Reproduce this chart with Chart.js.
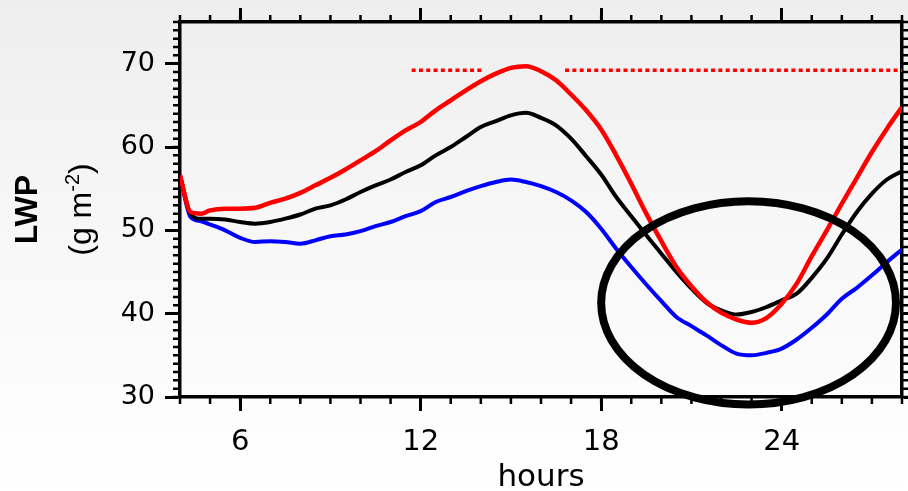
<!DOCTYPE html>
<html>
<head>
<meta charset="utf-8">
<script src="https://cdn.jsdelivr.net/npm/chart.js@4"></script>
<style>
  html, body { margin: 0; padding: 0; background: #fff; }
  canvas { display: block; }
</style>
</head>
<body>
<canvas id="lwp" width="908" height="491"></canvas>
<script>
// LWP (g m-2) against hours, three runs
const hours = [4, 4.35, 4.7, 5, 5.5, 6, 6.5, 7, 7.5, 8, 8.5, 9, 9.5, 10, 10.5, 11, 11.5, 12, 12.5, 13,
  13.5, 14, 14.5, 15, 15.5, 16, 16.5, 17, 17.5, 18, 18.5, 19, 19.5, 20, 20.5, 21, 21.5, 22, 22.5, 23,
  23.5, 24, 24.5, 25, 25.5, 26, 26.5, 27, 27.5, 28];
const lwpRed = [56.6, 52.2, 52.0, 52.4, 52.6, 52.6, 52.7, 53.3, 53.8, 54.5, 55.4, 56.3, 57.3, 58.4, 59.5, 60.8, 62.0, 63.0, 64.4, 65.6,
  66.8, 67.9, 68.8, 69.5, 69.7, 69.1, 68.0, 66.3, 64.4, 62.1, 59.0, 55.6, 52.0, 48.7, 45.6, 43.3, 41.4, 40.1, 39.3, 38.9,
  39.5, 41.2, 43.6, 46.9, 50.0, 53.2, 56.3, 59.4, 62.2, 64.8];
const lwpBlack = [56.6, 52.0, 51.4, 51.4, 51.3, 51.0, 50.8, 51.0, 51.4, 51.9, 52.6, 53.0, 53.7, 54.6, 55.4, 56.1, 57.0, 57.8, 59.0, 60.0,
  61.2, 62.4, 63.1, 63.8, 64.1, 63.5, 62.6, 61.0, 58.9, 56.7, 54.0, 51.7, 49.4, 47.2, 45.0, 43.0, 41.3, 40.4, 39.9, 40.2,
  40.8, 41.6, 42.4, 44.3, 46.6, 49.5, 52.2, 54.4, 56.1, 57.1];
const lwpBlue = [56.6, 51.6, 51.1, 50.7, 50.0, 49.1, 48.6, 48.7, 48.6, 48.4, 48.8, 49.3, 49.5, 49.9, 50.5, 51.0, 51.7, 52.3, 53.4, 54.0,
  54.7, 55.3, 55.8, 56.1, 55.8, 55.3, 54.6, 53.6, 52.2, 50.2, 47.8, 45.6, 43.5, 41.5, 39.6, 38.5, 37.4, 36.2, 35.2, 35.0,
  35.3, 35.8, 36.9, 38.3, 39.9, 41.8, 43.1, 44.6, 46.2, 47.7];

const xMajor = [6, 12, 18, 24];
const yMajor = [30, 40, 50, 60, 70];

// red dotted reference level and the hours it covers
const refLevel = 69.2;
const refSegments = [[11.7, 14.1], [16.8, 28]];

// circled region: centre hour, centre LWP, half-width (h), half-height (g m-2)
const circled = [22.9, 41.3, 4.9, 12.2];

const tickFont = { family: 'DejaVu Sans', size: 27 };

const pts = (vals) => hours.map((h, i) => ({ x: h, y: vals[i] }));

const background = {
  id: 'background',
  beforeDraw(chart) {
    const { ctx, width, height } = chart;
    const g = ctx.createLinearGradient(0, 0, 0, height);
    g.addColorStop(0, '#eeeeee');
    g.addColorStop(0.45, '#f7f7f7');
    g.addColorStop(1, '#ffffff');
    ctx.save();
    ctx.fillStyle = g;
    ctx.fillRect(0, 0, width, height);
    ctx.restore();
  }
};

// minor ticks every hour / every 1 g m-2 on all four sides
const minorTicks = {
  id: 'minorTicks',
  afterDraw(chart) {
    const { ctx, chartArea: a, scales } = chart;
    ctx.save();
    ctx.strokeStyle = '#000';
    ctx.lineWidth = 2.5;
    ctx.beginPath();
    for (let h = scales.x.min; h <= scales.x.max; h++) {
      const px = scales.x.getPixelForValue(h);
      ctx.moveTo(px, a.bottom); ctx.lineTo(px, a.bottom + 7);
      ctx.moveTo(px, a.top); ctx.lineTo(px, a.top - 7);
    }
    for (let v = scales.y.min; v <= scales.y.max; v++) {
      const py = scales.y.getPixelForValue(v);
      ctx.moveTo(a.left, py); ctx.lineTo(a.left - 7, py);
      ctx.moveTo(a.right, py); ctx.lineTo(a.right + 7, py);
    }
    ctx.stroke();
    ctx.restore();
  }
};

const yTitle = {
  id: 'yTitle',
  afterDraw(chart) {
    const { ctx, chartArea: a } = chart;
    const cy = (a.top + a.bottom) / 2;
    ctx.save();
    ctx.fillStyle = '#000';
    ctx.translate(37, cy);
    ctx.rotate(-Math.PI / 2);
    ctx.textAlign = 'center';
    ctx.textBaseline = 'alphabetic';
    ctx.font = 'bold 32px "Liberation Sans"';
    ctx.fillText('LWP', 0, 0);
    ctx.restore();

    ctx.save();
    ctx.fillStyle = '#000';
    ctx.translate(91, cy);
    ctx.rotate(-Math.PI / 2);
    ctx.textAlign = 'left';
    ctx.textBaseline = 'alphabetic';
    const big = '32px "Liberation Sans"';
    const small = '20px "Liberation Sans"';
    ctx.font = big;
    const w1 = ctx.measureText('(g m').width;
    const w3 = ctx.measureText(')').width;
    ctx.font = small;
    const w2 = ctx.measureText('-2').width;
    let x = -(w1 + w2 + w3) / 2;
    ctx.font = big;
    ctx.fillText('(g m', x, 0);
    x += w1;
    ctx.font = small;
    ctx.fillText('-2', x, -12);
    x += w2;
    ctx.font = big;
    ctx.fillText(')', x, 0);
    ctx.restore();
  }
};

const ellipse = {
  id: 'ellipse',
  afterDraw(chart) {
    const { ctx, scales: { x, y } } = chart;
    const [ch, cv, rh, rv] = circled;
    const cx = x.getPixelForValue(ch);
    const cyy = y.getPixelForValue(cv);
    const rx = x.getPixelForValue(ch + rh) - cx;
    const ry = cyy - y.getPixelForValue(cv + rv);
    ctx.save();
    ctx.strokeStyle = '#000';
    ctx.lineWidth = 8;
    ctx.beginPath();
    ctx.ellipse(cx, cyy, rx, ry, 0, 0, Math.PI * 2);
    ctx.stroke();
    ctx.restore();
  }
};

const setTicks = (vals) => (scale) => { scale.ticks = vals.map(v => ({ value: v })); };

const lineStyle = (color, w) => ({
  borderColor: color, borderWidth: w, pointRadius: 0, fill: false,
  tension: 0.3, cubicInterpolationMode: 'monotone'
});

const datasets = [
  { data: pts(lwpRed), ...lineStyle('#ff0000', 4.5) },
  { data: pts(lwpBlack), ...lineStyle('#000000', 4) },
  { data: pts(lwpBlue), ...lineStyle('#0000ff', 4) }
];
refSegments.forEach(seg => {
  datasets.push({
    data: seg.map(h => ({ x: h, y: refLevel })),
    borderColor: '#ff0000', borderWidth: 3.5, borderDash: [4, 3.3],
    borderCapStyle: 'butt', pointRadius: 0, fill: false
  });
});

const axisGrid = (len) => ({
  display: true, drawOnChartArea: false, drawTicks: true,
  tickLength: len, tickWidth: 3, tickColor: '#000'
});
const axisBorder = { display: true, color: '#000', width: 3.5 };

// fix the box sizes so the plot area sits where it does in the figure
const fixSize = (prop, size) => (s) => {
  s[prop] = size;
  s.paddingTop = 0; s.paddingBottom = 0; s.paddingLeft = 0; s.paddingRight = 0;
};

new Chart(document.getElementById('lwp'), {
  type: 'line',
  data: { datasets },
  options: {
    responsive: false,
    animation: false,
    layout: { padding: 0 },
    plugins: { legend: { display: false }, tooltip: { enabled: false } },
    scales: {
      x: {
        type: 'linear', position: 'bottom', min: 4, max: 28,
        afterBuildTicks: setTicks(xMajor),
        afterFit: fixSize('height', 94),
        grid: axisGrid(14), border: axisBorder,
        ticks: { color: '#000', font: { family: 'DejaVu Sans', size: 29 }, padding: 14, maxRotation: 0 },
        title: { display: true, text: 'hours', color: '#000',
          font: { family: 'DejaVu Sans', size: 31 }, padding: { top: 0, bottom: -6 } }
      },
      x2: {
        type: 'linear', position: 'top', min: 4, max: 28,
        afterBuildTicks: setTicks(xMajor),
        afterFit: fixSize('height', 22),
        grid: axisGrid(14), border: axisBorder,
        ticks: { display: false }
      },
      y: {
        type: 'linear', position: 'left', min: 30, max: 75,
        afterBuildTicks: setTicks(yMajor),
        afterFit: fixSize('width', 180),
        grid: axisGrid(15), border: axisBorder,
        ticks: { color: '#000', font: tickFont, padding: 10 }
      },
      y2: {
        type: 'linear', position: 'right', min: 30, max: 75,
        afterBuildTicks: setTicks(yMajor),
        afterFit: fixSize('width', 6),
        grid: axisGrid(14), border: axisBorder,
        ticks: { display: false }
      }
    }
  },
  plugins: [background, minorTicks, yTitle, ellipse]
});
</script>
</body>
</html>
